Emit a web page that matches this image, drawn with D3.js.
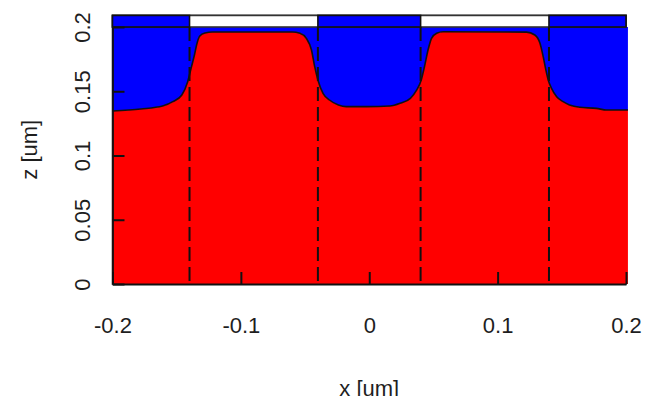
<!DOCTYPE html>
<html>
<head>
<meta charset="utf-8">
<script src="https://cdn.jsdelivr.net/npm/d3@7"></script>
<style>
  html, body { margin: 0; padding: 0; background: #ffffff; }
  svg { display: block; }
  text { font-family: "Liberation Sans", Arial, Helvetica, sans-serif; fill: #1e1e1e; }
</style>
</head>
<body>
<svg id="chart" width="647" height="396"></svg>
<script>
// Etched surface profile: substrate height z [um] along x [um]
const profileX = [-0.2, -0.178, -0.161, -0.153, -0.146, -0.1415, -0.1385, -0.136, -0.1345, -0.132,
  -0.128, -0.122, -0.06, -0.054, -0.049, -0.045, -0.0425, -0.040, -0.036, -0.031,
  -0.024, -0.018, -0.002, 0.016, 0.024, 0.032, 0.037, 0.0405, 0.043, 0.0458,
  0.0485, 0.0525, 0.0575, 0.1225, 0.129, 0.133, 0.1355, 0.1376, 0.1394, 0.142,
  0.146, 0.151, 0.156, 0.164, 0.177, 0.185, 0.2015];
const profileZ = [0.1346, 0.1362, 0.1385, 0.1419, 0.1471, 0.1572, 0.1690, 0.1790, 0.1860, 0.1930,
  0.1953, 0.1961, 0.1961, 0.1951, 0.1912, 0.1821, 0.1691, 0.1588, 0.1484, 0.1432,
  0.1393, 0.1380, 0.1380, 0.1385, 0.1406, 0.1445, 0.1510, 0.1588, 0.1691, 0.1821,
  0.1912, 0.1951, 0.1963, 0.1960, 0.1938, 0.1873, 0.1769, 0.1665, 0.1588, 0.1523,
  0.1458, 0.1419, 0.1393, 0.1375, 0.1367, 0.1354, 0.1354];

// Mask layer on top of the resist: blocked segments and layer bounds
const maskStart = [-0.2, -0.04, 0.14];
const maskEnd = [-0.14, 0.04, 0.2];
const maskZ = [0.2, 0.209];

// Mask edge guides
const guideX = [-0.14, -0.04, 0.04, 0.14];

// Axes
const xTicks = [-0.2, -0.1, 0, 0.1, 0.2];
const xTickLabels = ["-0.2", "-0.1", "0", "0.1", "0.2"];
const yTicks = [0, 0.05, 0.1, 0.15, 0.2];
const yTickLabels = ["0", "0.05", "0.1", "0.15", "0.2"];
const xTitle = "x [um]";
const yTitle = "z [um]";

const svg = d3.select("#chart");
const x = d3.scaleLinear().domain([-0.2, 0.2]).range([112.5, 626]);
const y = d3.scaleLinear().domain([0, 0.2]).range([284, 27]);

const profile = profileX.map((v, i) => ({ x: v, z: profileZ[i] }));
const ink = "#111111";

// Frame of the plotting region
svg.append("rect")
  .attr("x", x(-0.2)).attr("y", y(maskZ[1]))
  .attr("width", x(0.2) - x(-0.2)).attr("height", y(0) - y(maskZ[1]))
  .attr("fill", "none").attr("stroke", "#333").attr("stroke-width", 1.6);

// Resist (blue) between the surface and the mask
svg.append("path")
  .datum(profile)
  .attr("fill", "#0000ff")
  .attr("d", d3.area().x(d => x(d.x)).y0(y(maskZ[0])).y1(d => y(d.z)).curve(d3.curveMonotoneX));

// Substrate (red) under the surface
svg.append("path")
  .datum(profile)
  .attr("fill", "#ff0000")
  .attr("d", d3.area().x(d => x(d.x)).y0(y(0)).y1(d => y(d.z)).curve(d3.curveMonotoneX));

// Surface outline
svg.append("path")
  .datum(profile)
  .attr("fill", "none").attr("stroke", ink).attr("stroke-width", 1.6)
  .attr("d", d3.line().x(d => x(d.x)).y(d => y(d.z)).curve(d3.curveMonotoneX));

// Mask layer: open background, blocked segments in blue
svg.append("rect")
  .attr("x", x(-0.2)).attr("y", y(maskZ[1]))
  .attr("width", x(0.2) - x(-0.2)).attr("height", y(maskZ[0]) - y(maskZ[1]))
  .attr("fill", "#ffffff").attr("stroke", "#333").attr("stroke-width", 1.6);
svg.append("g").selectAll("rect")
  .data(maskStart.map((s, i) => ({ s, e: maskEnd[i] })))
  .join("rect")
  .attr("x", d => x(d.s)).attr("y", y(maskZ[1]))
  .attr("width", d => x(d.e) - x(d.s)).attr("height", y(maskZ[0]) - y(maskZ[1]))
  .attr("fill", "#0000ff").attr("stroke", ink).attr("stroke-width", 1.6);

// Dashed guides at the mask edges
svg.append("g").selectAll("line")
  .data(guideX)
  .join("line")
  .attr("x1", d => x(d)).attr("x2", d => x(d))
  .attr("y1", y(maskZ[0])).attr("y2", y(0))
  .attr("stroke", ink).attr("stroke-width", 2)
  .attr("stroke-dasharray", "14,6");

// Bottom axis with inward ticks
const gx = svg.append("g")
  .attr("transform", `translate(0,${y(0)})`)
  .call(d3.axisBottom(x).tickValues(xTicks)
    .tickFormat((d, i) => xTickLabels[i])
    .tickSizeInner(-12).tickSizeOuter(0));
gx.select(".domain").attr("stroke", ink).attr("stroke-width", 1.8);
gx.selectAll(".tick line").attr("stroke", ink).attr("stroke-width", 2);
gx.selectAll(".tick text")
  .attr("y", 49).attr("dy", null)
  .attr("font-size", 22).attr("fill", "#1e1e1e");

// Left axis with inward ticks and rotated labels
const gy = svg.append("g")
  .attr("transform", `translate(${x(-0.2)},0)`)
  .call(d3.axisLeft(y).tickValues(yTicks)
    .tickFormat((d, i) => yTickLabels[i])
    .tickSizeInner(-12).tickSizeOuter(0));
gy.select(".domain").attr("stroke", ink).attr("stroke-width", 1.8);
gy.selectAll(".tick line").attr("stroke", ink).attr("stroke-width", 2);
gy.selectAll(".tick text")
  .attr("x", null).attr("dy", null)
  .attr("text-anchor", "middle")
  .attr("transform", "translate(-22.5,0) rotate(-90)")
  .attr("font-size", 22).attr("fill", "#1e1e1e");

// Axis titles
svg.append("text")
  .attr("x", (x(-0.2) + x(0.2)) / 2).attr("y", 396)
  .attr("text-anchor", "middle").attr("font-size", 22)
  .text(xTitle);
svg.append("text")
  .attr("transform", `translate(37,${(y(0) + y(maskZ[1])) / 2}) rotate(-90)`)
  .attr("text-anchor", "middle").attr("font-size", 22)
  .text(yTitle);
</script>
</body>
</html>
